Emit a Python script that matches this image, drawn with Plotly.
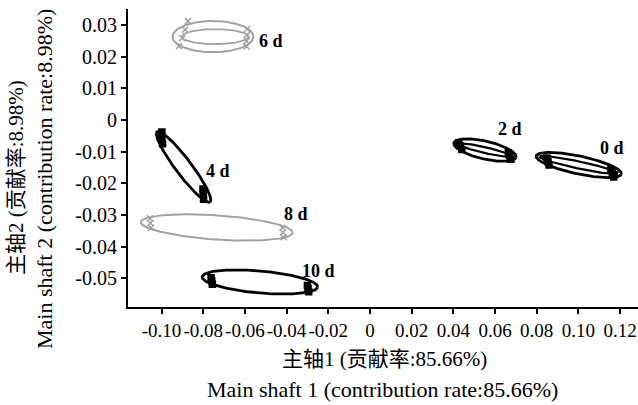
import numpy as np
import plotly.graph_objects as go

# ---------------- data ----------------
groups = ["0 d", "2 d", "4 d", "6 d", "8 d", "10 d"]
group_colors = ["black", "black", "black", "#a2a2a2", "#a2a2a2", "black"]

# outer confidence ellipse: centre, semi-axes (in x-data units), display angle (deg)
ell_cx = [0.1002, 0.0552, -0.0894, -0.0753, -0.0735, -0.0528]
ell_cy = [-0.0142, -0.0095, -0.0148, 0.0263, -0.0339, -0.0511]
ell_a = [0.0209, 0.0153, 0.0211, 0.0194, 0.0365, 0.0278]
ell_b = [0.0043, 0.0043, 0.0038, 0.0075, 0.0058, 0.0053]
ell_ang = [-12, -13, -53, 0, -4, -5]

# inner ellipse (only some groups)
inner_groups = ["0 d", "2 d", "6 d"]
inner_a = [0.0192, 0.0134, 0.0160]
inner_b = [0.0017, 0.0014, 0.0036]
inner_dx = [0.0, 0.0, 0.0010]

# replicate points
pts_x = {
    "0 d": [0.0849, 0.0854, 0.0859, 0.1156, 0.1163, 0.1170],
    "2 d": [0.0427, 0.0434, 0.0441, 0.0664, 0.0670, 0.0676],
    "4 d": [-0.0998, -0.0998, -0.0995, -0.0801, -0.0800, -0.0798],
    "6 d": [-0.0873, -0.0887, -0.0901, -0.0916, -0.0590, -0.0590, -0.0592, -0.0592],
    "8 d": [-0.1055, -0.1053, -0.1050, -0.0420, -0.0417, -0.0414],
    "10 d": [-0.0762, -0.0759, -0.0756, -0.0300, -0.0297, -0.0294],
}
pts_y = {
    "0 d": [-0.0120, -0.0132, -0.0142, -0.0155, -0.0168, -0.0180],
    "2 d": [-0.0072, -0.0082, -0.0093, -0.0103, -0.0113, -0.0124],
    "4 d": [-0.0038, -0.0055, -0.0075, -0.0218, -0.0233, -0.0250],
    "6 d": [0.0312, 0.0285, 0.0258, 0.0233, 0.0287, 0.0268, 0.0249, 0.0232],
    "8 d": [-0.0310, -0.0325, -0.0340, -0.0340, -0.0355, -0.0370],
    "10 d": [-0.0498, -0.0508, -0.0518, -0.0522, -0.0532, -0.0542],
}

label_x = [0.1161, 0.0671, -0.0730, -0.0475, -0.0355, -0.0245]
label_y = [-0.0087, -0.0027, -0.0160, 0.0250, -0.0295, -0.0475]

x_ticks = [-0.10, -0.08, -0.06, -0.04, -0.02, 0, 0.02, 0.04, 0.06, 0.08, 0.10, 0.12]
x_ticktext = ["-0.10", "-0.08", "-0.06", "-0.04", "-0.02", "0", "0.02", "0.04", "0.06", "0.08", "0.10", "0.12"]
y_ticks = [0.03, 0.02, 0.01, 0, -0.01, -0.02, -0.03, -0.04, -0.05]
y_ticktext = ["0.03", "0.02", "0.01", "0", "-0.01", "-0.02", "-0.03", "-0.04", "-0.05"]

x_title = ["主轴1 (贡献率:85.66%)", "Main shaft 1 (contribution rate:85.66%)"]
y_title = ["主轴2 (贡献率:8.98%)", "Main shaft 2 (contribution rate:8.98%)"]

# ---------------- layout geometry ----------------
W, H = 638, 405
ML, MR, MT, MB = 128, 0, 9, 98
x_range = [-0.11607, 0.1286]
y_range = [-0.0590, 0.03502]
pw, ph = W - ML - MR, H - MT - MB
px_per_x = pw / (x_range[1] - x_range[0])
px_per_y = ph / (y_range[1] - y_range[0])
ratio = px_per_x / px_per_y  # converts x-unit display distance to y units

FONT = "Liberation Serif, Times New Roman, Noto Sans CJK SC, serif"


def ellipse(cx, cy, a, b, ang_deg, n=200):
    t = np.linspace(0, 2 * np.pi, n)
    th = np.deg2rad(ang_deg)
    X = a * np.cos(t) * np.cos(th) - b * np.sin(t) * np.sin(th)
    Y = a * np.cos(t) * np.sin(th) + b * np.sin(t) * np.cos(th)
    return cx + X, cy + Y * ratio


fig = go.Figure()

for i, g in enumerate(groups):
    col = group_colors[i]
    ex, ey = ellipse(ell_cx[i], ell_cy[i], ell_a[i], ell_b[i], ell_ang[i])
    fig.add_trace(go.Scatter(x=ex, y=ey, mode="lines",
                             line=dict(color=col, width=2.8 if col == "black" else 2),
                             hoverinfo="skip", showlegend=False))
    if g in inner_groups:
        j = inner_groups.index(g)
        ix, iy = ellipse(ell_cx[i] + inner_dx[j], ell_cy[i], inner_a[j], inner_b[j], ell_ang[i])
        fig.add_trace(go.Scatter(x=ix, y=iy, mode="lines",
                                 line=dict(color=col, width=2.2 if col == "black" else 1.8),
                                 hoverinfo="skip", showlegend=False))
    fig.add_trace(go.Scatter(
        x=pts_x[g], y=pts_y[g], mode="markers",
        marker=dict(symbol="square" if col == "black" else "x-thin",
                    size=6,
                    color=col, line=dict(color=col, width=1.5)),
        showlegend=False, name=g))
    fig.add_annotation(x=label_x[i], y=label_y[i], text="<b>" + g + "</b>", showarrow=False,
                       font=dict(family=FONT, size=18, color="black"),
                       xanchor="center", yanchor="middle")

# axis titles
cn_font = dict(family=FONT, size=21, color="black")
en_font = dict(family=FONT, size=22, color="black")
fig.add_annotation(xref="paper", yref="paper",
                   x=(384 - ML) / pw, y=1 - (359 - MT) / ph,
                   text=x_title[0], showarrow=False, font=cn_font,
                   xanchor="center", yanchor="middle")
fig.add_annotation(xref="paper", yref="paper",
                   x=(382 - ML) / pw, y=1 - (389 - MT) / ph,
                   text=x_title[1], showarrow=False, font=en_font,
                   xanchor="center", yanchor="middle")
fig.add_annotation(xref="paper", yref="paper",
                   x=(16 - ML) / pw, y=1 - (178 - MT) / ph,
                   text=y_title[0], showarrow=False, textangle=-90, font=cn_font,
                   xanchor="center", yanchor="middle")
fig.add_annotation(xref="paper", yref="paper",
                   x=(44 - ML) / pw, y=1 - (179 - MT) / ph,
                   text=y_title[1], showarrow=False, textangle=-90, font=en_font,
                   xanchor="center", yanchor="middle")

fig.update_layout(
    width=W, height=H,
    margin=dict(l=ML, r=MR, t=MT, b=MB),
    paper_bgcolor="white", plot_bgcolor="white",
    showlegend=False,
    font=dict(family=FONT, size=18, color="black"),
)
fig.update_xaxes(range=x_range, tickmode="array", tickvals=x_ticks, ticktext=x_ticktext,
                 tickangle=0,
                 showgrid=False, zeroline=False, showline=True, linecolor="black", linewidth=2,
                 ticks="outside", ticklen=5, tickwidth=2, tickcolor="black",
                 tickfont=dict(family=FONT, size=19, color="black"))
fig.update_yaxes(range=y_range, tickmode="array", tickvals=y_ticks, ticktext=y_ticktext,
                 showgrid=False, zeroline=False, showline=True, linecolor="black", linewidth=2,
                 ticks="outside", ticklen=5, tickwidth=2, tickcolor="black",
                 tickfont=dict(family=FONT, size=20, color="black"))

fig.write_html("out.html")
